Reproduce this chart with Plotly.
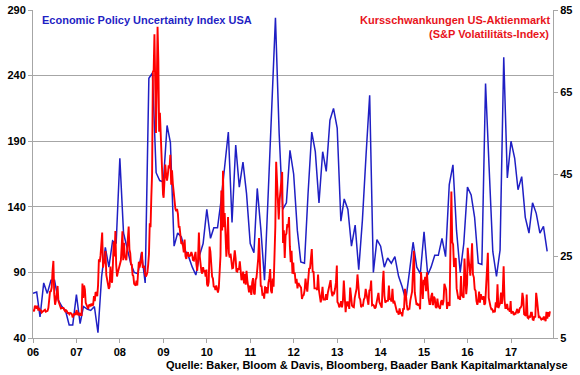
import pandas as pd
import plotly.graph_objects as go

# ---------------- Data ----------------
# Economic Policy Uncertainty Index USA (monthly, left axis)
epu_2006 = [74, 75, 56, 82, 74, 84, 84, 69, 64, 61, 50, 50]
epu_2007 = [73, 51, 64, 62, 61, 64, 44, 87, 109, 94, 114, 112]
epu_2008 = [177, 120, 109, 97, 90, 89, 105, 82, 238, 242, 166, 160]
epu_2009 = [159, 202, 189, 110, 120, 117, 107, 102, 94, 88, 103, 112]
epu_2010 = [138, 116, 124, 124, 145, 170, 197, 128, 187, 155, 174, 150]
epu_2011 = [112, 105, 154, 122, 84, 150, 210, 284, 196, 138, 143, 183]
epu_2012 = [165, 122, 98, 97, 150, 197, 182, 143, 182, 167, 206, 215]
epu_2013 = [200, 129, 146, 138, 110, 126, 92, 130, 180, 225, 90, 115]
epu_2014 = [110, 94, 101, 97, 102, 87, 79, 69, 91, 113, 94, 89]
epu_2015 = [121, 88, 94, 103, 103, 116, 102, 157, 172, 122, 90, 112]
epu_2016 = [155, 149, 132, 97, 96, 234, 170, 106, 87, 107, 254, 162]
epu_2017 = [190, 177, 153, 163, 132, 120, 143, 135, 120, 125, 106]

# S&P volatility index (weekly readings, right axis)
vix_2006 = [12.0, 11.5, 12.9, 12.6, 12.2, 12.9, 11.7, 12.3, 11.6, 11.9, 11.2, 11.4, 11.6, 11.7, 11.9, 11.4,
            11.6, 11.6, 12.3, 15.2, 16.3, 16.4, 17.3, 21.4, 23.8, 15.7, 13.1, 14.2, 16.2, 17.7, 14.0, 13.5,
            13.0, 12.2, 12.3, 12.3, 12.3, 11.8, 11.5, 11.8, 11.6, 11.1, 11.1, 10.8, 11.1, 11.0, 10.8, 10.0,
            10.8, 11.0, 10.6, 11.6]
vix_2007 = [11.8, 10.6, 11.0, 10.7, 11.1, 10.6, 10.6, 18.3, 14.8, 17.8, 16.8, 13.6, 12.9, 12.2, 12.1, 13.0,
            13.1, 12.9, 13.4, 13.0, 13.1, 15.2, 14.0, 16.2, 15.9, 15.2, 17.9, 24.2, 23.5, 25.2, 28.0, 30.7,
            22.2, 23.4, 23.2, 26.2, 20.4, 19.0, 18.0, 17.0, 17.5, 22.4, 19.0, 18.5, 23.0, 28.5, 24.9, 31.1,
            22.9, 20.0, 21.0, 21.7, 22.5]
vix_2008 = [23.2, 23.9, 27.2, 31.0, 24.0, 28.2, 25.0, 24.1, 24.0, 26.5, 29.4, 32.2, 26.6, 25.7, 23.0, 22.9,
            20.4, 20.1, 18.2, 18.0, 17.8, 19.0, 17.8, 20.8, 23.6, 22.2, 23.1, 24.0, 26.0, 22.3, 22.3, 22.6,
            20.7, 20.0, 20.4, 21.0, 22.9, 25.5, 33.0, 32.0, 39.4, 45.1, 69.9, 70.3, 79.1, 62.9, 55.0, 66.3,
            80.9, 72.7, 55.3, 59.9, 54.3, 47.4, 44.2, 40.0]
vix_2009 = [39.2, 42.8, 47.3, 44.8, 43.4, 44.8, 47.1, 46.4, 49.7, 42.4, 45.9, 42.6, 40.0, 39.7, 36.5, 35.9,
            36.5, 35.3, 32.1, 32.1, 28.9, 28.0, 28.2, 27.5, 25.9, 29.0, 25.0, 24.3, 25.6, 25.9, 25.0, 25.0,
            25.2, 26.0, 25.3, 24.0, 23.9, 25.6, 26.0, 23.0, 21.4, 24.2, 30.7, 25.0, 22.7, 21.2, 20.7, 22.3,
            21.2, 21.5, 20.0, 21.7]
vix_2010 = [18.1, 17.6, 18.7, 27.3, 26.1, 22.7, 20.0, 19.5, 17.4, 17.6, 16.7, 17.8, 16.9, 16.1, 17.2, 22.1,
            25.0, 41.0, 31.2, 45.8, 32.0, 35.5, 28.8, 24.8, 28.5, 34.5, 25.7, 24.6, 25.6, 23.5, 22.0, 22.1,
            24.1, 26.4, 24.5, 21.3, 21.2, 22.0, 21.7, 23.7, 21.5, 19.1, 19.7, 21.2, 18.3, 20.6, 18.0, 21.4,
            19.0, 17.6, 16.1, 17.8]
vix_2011 = [17.1, 15.5, 18.5, 19.6, 16.0, 15.6, 19.2, 19.7, 21.9, 24.3, 29.4, 20.6, 17.7, 17.6, 15.3, 16.0,
            14.6, 17.6, 15.9, 17.4, 15.9, 18.5, 19.6, 21.8, 16.5, 15.9, 19.5, 17.5, 25.3, 32.0, 48.0, 42.7,
            35.6, 33.9, 38.5, 41.3, 43.0, 45.5, 28.2, 31.3, 24.5, 30.0, 30.5, 32.8, 32.0, 34.5, 27.4, 23.5,
            26.3, 20.7, 23.4]
vix_2012 = [20.6, 20.9, 18.3, 19.4, 17.1, 18.4, 17.8, 17.6, 17.3, 14.5, 15.3, 15.5, 16.7, 19.5, 17.4, 16.3,
            19.2, 21.9, 22.0, 24.5, 26.7, 21.2, 21.1, 17.1, 17.1, 17.1, 16.7, 20.5, 16.7, 15.6, 13.7, 15.2,
            17.5, 14.4, 14.5, 14.4, 15.7, 14.3, 16.1, 17.1, 18.6, 19.1, 16.4, 15.2, 16.0, 15.9, 17.0, 18.5,
            22.7]
vix_2013 = [13.8, 13.4, 12.5, 12.9, 14.0, 12.5, 14.0, 19.0, 13.0, 11.3, 13.9, 12.7, 13.9, 12.1, 17.3, 13.6,
            12.9, 12.6, 12.5, 14.8, 16.3, 17.0, 20.5, 16.9, 14.9, 14.4, 12.5, 13.0, 12.9, 14.4, 14.8, 17.0,
            15.9, 14.2, 13.1, 16.6, 16.7, 19.0, 13.0, 13.1, 12.9, 12.2, 12.5, 13.7, 15.5, 16.0, 13.8, 13.2]
vix_2014 = [12.9, 12.4, 18.1, 21.4, 15.3, 13.6, 14.0, 14.0, 14.1, 17.8, 14.5, 14.4, 13.9, 17.0, 13.4, 14.1,
            12.9, 12.4, 11.4, 11.4, 10.7, 12.2, 10.9, 11.3, 10.3, 12.1, 12.1, 17.0, 15.8, 13.2, 11.8, 12.1,
            12.1, 14.1, 15.0, 16.3, 21.2, 26.3, 16.1, 14.0, 13.1, 13.3, 12.9, 13.3, 12.0, 21.1, 16.5, 14.5,
            19.2]
vix_2015 = [17.9, 19.9, 16.4, 21.0, 17.3, 14.7, 13.3, 13.3, 15.2, 16.0, 13.0, 15.1, 14.7, 12.6, 12.3, 14.6,
            12.9, 12.4, 12.1, 13.8, 14.2, 13.0, 14.0, 18.2, 17.0, 16.8, 12.1, 13.7, 13.4, 12.8, 28.0, 40.7,
            28.4, 27.8, 22.3, 23.6, 24.5, 17.1, 16.2, 14.5, 15.1, 14.3, 20.1, 15.5, 15.1, 14.8, 24.4, 16.9,
            15.7, 18.2]
vix_2016 = [27.0, 24.4, 22.3, 20.2, 23.4, 28.1, 20.5, 19.8, 16.9, 16.5, 14.0, 13.1, 14.1, 16.3, 13.6, 15.7,
            14.7, 14.4, 15.2, 13.1, 13.5, 17.0, 20.1, 25.8, 14.8, 13.2, 12.7, 12.0, 12.0, 11.4, 11.6, 11.3,
            13.7, 12.5, 18.1, 12.3, 13.3, 13.5, 16.1, 13.3, 16.2, 22.5, 14.2, 12.3, 12.3, 13.3, 11.8, 12.2,
            11.4, 14.0]
vix_2017 = [11.0, 11.2, 11.5, 10.6, 11.0, 10.9, 11.5, 12.1, 11.2, 11.3, 12.3, 12.4, 12.9, 16.0, 14.6, 10.8,
            10.6, 10.4, 15.6, 10.0, 9.8, 10.4, 10.0, 11.2, 11.2, 9.5, 9.4, 10.3, 10.0, 16.0, 14.3, 11.3,
            10.1, 10.2, 9.6, 9.5, 9.7, 9.6, 10.2, 9.4, 9.1, 11.4, 9.7, 11.3, 10.2, 11.5]

years = list(range(2006, 2018))
left_ticks = [40, 90, 140, 190, 240, 290]
right_ticks = [5, 25, 45, 65, 85]

title_epu = "Economic Policy Uncertainty Index USA"
title_vix_1 = "Kursschwankungen US-Aktienmarkt"
title_vix_2 = "(S&P Volatilitäts-Index)"
source_text = "Quelle: Baker, Bloom & Davis, Bloomberg, Baader Bank Kapitalmarktanalyse"

# ---------------- Assemble series ----------------
epu_by_year = [epu_2006, epu_2007, epu_2008, epu_2009, epu_2010, epu_2011,
               epu_2012, epu_2013, epu_2014, epu_2015, epu_2016, epu_2017]
vix_by_year = [vix_2006, vix_2007, vix_2008, vix_2009, vix_2010, vix_2011,
               vix_2012, vix_2013, vix_2014, vix_2015, vix_2016, vix_2017]

epu_vals = [v for yr in epu_by_year for v in yr]
epu_dates = pd.date_range("2006-01-01", periods=len(epu_vals), freq="MS")

vix_dates, vix_vals = [], []
for y, vals in zip(years, vix_by_year):
    end = f"{y}-11-24" if y == 2017 else f"{y}-12-29"
    d = pd.date_range(f"{y}-01-03", end, periods=len(vals))
    vix_dates.extend(list(d))
    vix_vals.extend(vals)

BLUE = "#1f1fc4"
RED = "#ff0000"
GRID = "#a6a6a6"
FONT = "Liberation Sans, Arial, sans-serif"

fig = go.Figure()
fig.add_trace(go.Scatter(x=epu_dates, y=epu_vals, mode="lines",
                         line=dict(color=BLUE, width=1.5), yaxis="y", name=title_epu))
fig.add_trace(go.Scatter(x=vix_dates, y=vix_vals, mode="lines",
                         line=dict(color=RED, width=1.9), yaxis="y2", name=title_vix_1))

tickfont = dict(family=FONT, size=11, color="black", weight="bold")

fig.update_layout(
    width=580, height=375,
    margin=dict(l=33, r=27, t=10, b=37, autoexpand=False),
    paper_bgcolor="white", plot_bgcolor="white",
    showlegend=False,
    font=dict(family=FONT, size=11, color="black"),
    xaxis=dict(type="date", range=["2006-01-01", "2017-12-20"],
               tickformat="%y", dtick="M12", tick0="2006-01-01",
               ticks="outside", ticklen=4, tickcolor=GRID,
               showline=True, linecolor=GRID, linewidth=1, automargin=False,
               showgrid=False, zeroline=False, tickfont=tickfont),
    yaxis=dict(range=[40, 290], tickvals=left_ticks,
               ticks="outside", ticklen=4, tickcolor=GRID,
               showline=True, linecolor=GRID, linewidth=1, automargin=False,
               showgrid=True, gridcolor=GRID, gridwidth=1,
               zeroline=False, tickfont=tickfont),
    yaxis2=dict(range=[5, 85], tickvals=right_ticks, overlaying="y", side="right",
                ticks="outside", ticklen=4, tickcolor=GRID,
                showline=True, linecolor=GRID, linewidth=1, automargin=False,
                showgrid=False, zeroline=False, tickfont=tickfont),
)

def py(pix):
    return 1 - (pix - 10) / 328.0

def px(pix):
    return (pix - 33) / 520.0

fig.add_annotation(text=title_epu, xref="paper", yref="paper", x=px(40), y=py(20.5),
                   xanchor="left", yanchor="middle", showarrow=False,
                   font=dict(family=FONT, size=11, color=BLUE, weight="bold"))
fig.add_annotation(text=title_vix_1, xref="paper", yref="paper", x=px(552), y=py(20.5),
                   xanchor="right", yanchor="middle", showarrow=False,
                   font=dict(family=FONT, size=11, color="#e8141c", weight="bold"))
fig.add_annotation(text=title_vix_2, xref="paper", yref="paper", x=px(551), y=py(33.5),
                   xanchor="right", yanchor="middle", showarrow=False,
                   font=dict(family=FONT, size=11, color="#e8141c", weight="bold"))
fig.add_annotation(text=source_text, xref="paper", yref="paper", x=px(570), y=py(365),
                   xanchor="right", yanchor="middle", showarrow=False,
                   font=dict(family=FONT, size=11, color="black", weight="bold"))

fig.write_html("out.html",
               config={"displayModeBar": False, "staticPlot": True},
               post_script="document.body.style.margin='0';document.body.style.overflow='hidden';")
